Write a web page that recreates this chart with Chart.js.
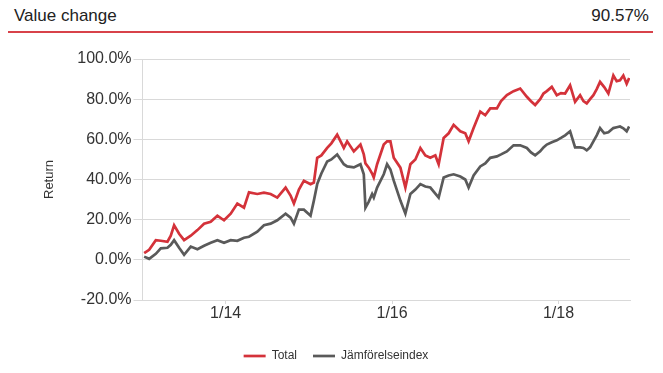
<!DOCTYPE html>
<html>
<head>
<meta charset="utf-8">
<script src="https://cdn.jsdelivr.net/npm/chart.js@4"></script>
<style>
  html, body { margin: 0; padding: 0; background: #fff; }
  body { width: 663px; height: 373px; position: relative; overflow: hidden; font-family: 'Liberation Sans', Arial, sans-serif; }
  .head { position: absolute; left: 14px; right: 14px; top: 6px; height: 22px; font-size: 17px; color: #222; }
  .head .val { position: absolute; right: 0; top: 0; }
  .rule { position: absolute; left: 8px; width: 645px; top: 31px; height: 2px; background: #d8424a; }
  .wrap { position: absolute; left: 0; top: 40px; width: 663px; height: 333px; }
</style>
</head>
<body>
<div class="head"><span>Value change</span><span class="val">90.57%</span></div>
<div class="rule"></div>
<div class="wrap"><canvas id="chart" width="663" height="333"></canvas></div>
<script>
// tid i decimalår
const dates = [
  2013.02, 2013.08, 2013.16, 2013.22, 2013.30, 2013.34, 2013.38, 2013.44, 2013.50, 2013.58,
  2013.66, 2013.74, 2013.82, 2013.90, 2013.98, 2014.06, 2014.14, 2014.22, 2014.28, 2014.38,
  2014.46, 2014.54, 2014.62, 2014.72, 2014.78, 2014.82, 2014.88, 2014.94, 2015.02, 2015.06,
  2015.10, 2015.15, 2015.22, 2015.27, 2015.34, 2015.42, 2015.46, 2015.54, 2015.62, 2015.66,
  2015.68, 2015.72, 2015.76, 2015.78, 2015.82, 2015.90, 2015.94, 2015.98, 2016.02, 2016.10,
  2016.16, 2016.22, 2016.28, 2016.34, 2016.40, 2016.46, 2016.52, 2016.56, 2016.62, 2016.68,
  2016.74, 2016.82, 2016.88, 2016.92, 2016.98, 2017.06, 2017.12, 2017.18, 2017.26, 2017.31,
  2017.38, 2017.46, 2017.54, 2017.62, 2017.67, 2017.72, 2017.78, 2017.82, 2017.86, 2017.92,
  2017.98, 2018.03, 2018.08, 2018.14, 2018.20, 2018.26, 2018.30, 2018.34, 2018.38, 2018.42,
  2018.46, 2018.50, 2018.55, 2018.60, 2018.66, 2018.70, 2018.74, 2018.78, 2018.82, 2018.85
];
const total = [
  3.3, 5.0, 9.8, 9.5, 9.0, 12.0, 17.2, 13.0, 9.8, 12.0,
  14.8, 18.0, 19.0, 22.0, 19.7, 23.0, 28.0, 26.0, 33.6, 32.8,
  33.5, 32.8, 31.0, 36.0, 32.0, 28.0, 35.0, 39.4, 37.7, 38.5,
  50.8, 52.0, 55.7, 58.0, 62.3, 55.7, 59.0, 54.0, 57.4, 52.5,
  48.0, 45.9, 43.0, 41.0, 47.6, 57.4, 59.0, 59.0, 50.8, 45.9,
  36.0, 47.6, 50.0, 55.7, 52.0, 50.8, 52.0, 47.6, 60.7, 63.0,
  67.2, 64.0, 63.0, 59.0, 65.6, 73.8, 72.0, 75.4, 75.4, 79.0,
  82.0, 84.0, 85.3, 81.2, 79.0, 77.1, 80.0, 82.8, 84.0, 86.1,
  82.0, 83.0, 82.8, 86.9, 78.7, 82.0, 79.0, 77.9, 80.0, 82.0,
  85.0, 88.6, 86.0, 82.8, 91.8, 89.0, 89.4, 91.8, 87.7, 90.57
];
const index = [
  1.6, 0.5, 3.0, 5.7, 6.0, 7.5, 9.8, 6.0, 2.5, 6.6,
  5.3, 7.0, 8.5, 9.8, 8.5, 9.8, 9.5, 11.0, 11.5, 14.0,
  17.2, 18.0, 19.7, 23.0, 21.0, 18.0, 25.0, 25.0, 22.0, 29.5,
  37.7, 43.0, 49.0, 50.0, 52.5, 47.6, 46.5, 46.0, 47.6, 42.6,
  26.0, 29.0, 32.8, 31.0, 36.0, 42.6, 47.6, 45.0, 39.4, 29.5,
  23.0, 32.8, 35.0, 37.7, 36.5, 36.0, 33.0, 31.0, 41.0, 42.0,
  42.6, 41.5, 40.0, 36.0, 42.0, 46.5, 48.0, 50.8, 51.5, 52.5,
  54.0, 57.0, 57.0, 55.7, 53.5, 52.0, 54.0, 56.0, 57.4, 58.5,
  59.5, 60.7, 62.0, 64.0, 56.0, 56.0, 55.7, 54.5, 56.0, 59.0,
  62.0, 65.6, 63.0, 63.5, 65.6, 66.0, 66.4, 65.5, 64.0, 66.4
];
const xTickYears = [2014, 2016, 2018];
const xTickLabels = ['1/14', '1/16', '1/18'];
const seriesNames = ['Total', 'Jämförelseindex'];

const toPoints = (arr) => arr.map((v, i) => ({ x: dates[i], y: v }));
const textColor = '#333333';
const gridColor = '#d9d9d9';

Chart.defaults.font.family = "'Liberation Sans', Arial, sans-serif";
Chart.defaults.color = textColor;

new Chart(document.getElementById('chart').getContext('2d'), {
    type: 'line',
    data: {
        datasets: [
            { label: seriesNames[0], data: toPoints(total), borderColor: '#d4323a', backgroundColor: '#d4323a',
              borderWidth: 2.7, pointRadius: 0, tension: 0, pointStyle: 'line' },
            { label: seriesNames[1], data: toPoints(index), borderColor: '#5a5a5a', backgroundColor: '#5a5a5a',
              borderWidth: 2.7, pointRadius: 0, tension: 0, pointStyle: 'line' }
        ]
    },
    options: {
        responsive: false,
        animation: false,
        layout: { padding: { left: 42, right: 33, top: 19, bottom: 1 } },
        plugins: {
            tooltip: { enabled: false },
            legend: {
                position: 'bottom',
                labels: { usePointStyle: true, pointStyleWidth: 22, boxHeight: 12, padding: 16,
                          font: { size: 12 }, color: textColor }
            }
        },
        scales: {
            x: {
                type: 'linear', min: 2013.0, max: 2018.86,
                afterBuildTicks: (axis) => { axis.ticks = xTickYears.map(v => ({ value: v })); },
                afterFit: (axis) => { axis.height = 34; },
                ticks: { font: { size: 16 }, color: textColor, padding: 0, maxRotation: 0,
                         callback: (value) => xTickLabels[xTickYears.indexOf(value)] },
                grid: { display: true, drawOnChartArea: false, tickLength: 4, color: gridColor },
                border: { color: gridColor, width: 1 }
            },
            y: {
                min: -20, max: 100,
                afterFit: (axis) => { axis.width = 100.5; },
                ticks: { stepSize: 20, font: { size: 16 }, color: textColor, padding: 2,
                         callback: (value) => value.toFixed(1) + '%' },
                grid: { color: gridColor, lineWidth: 1, tickLength: 9 },
                border: { color: gridColor, width: 1 },
                title: { display: true, text: 'Return', font: { size: 13 }, color: textColor, padding: 0 }
            }
        }
    }
});
</script>
</body>
</html>
